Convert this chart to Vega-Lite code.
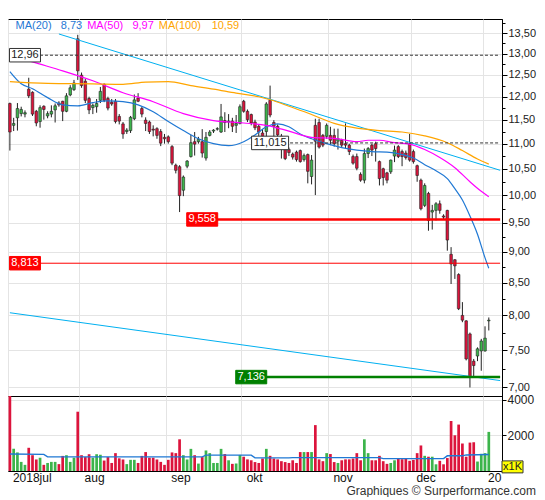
{
  "$schema": "https://vega.github.io/schema/vega-lite/v6.json",
  "padding": {"left": 6, "top": 16, "right": 4, "bottom": 0},
  "background": "white",
  "bounds": "flush",
  "config": {
    "view": {"stroke": "#000", "strokeWidth": 1},
    "axis": {
      "labelFont": "Liberation Sans",
      "labelColor": "#222",
      "gridColor": "#e4e4e4",
      "tickColor": "#000",
      "domainColor": "#000",
      "labelOverlap": false,
      "labelFlush": false
    },
    "text": {"font": "Liberation Sans"}
  },
  "title": {
    "text": "Graphiques © Surperformance.com",
    "orient": "bottom",
    "anchor": "end",
    "font": "Liberation Sans",
    "fontSize": 12,
    "fontWeight": "normal",
    "color": "#333",
    "offset": 2
  },
  "datasets": {
    "candles": [
      {"d": "2018-07-05", "o": 11.85, "h": 11.87, "l": 10.86, "c": 11.24, "v": 4300},
      {"d": "2018-07-06", "o": 11.38, "h": 11.54, "l": 11.26, "c": 11.42, "v": 1240},
      {"d": "2018-07-09", "o": 11.54, "h": 11.86, "l": 11.27, "c": 11.74, "v": 1040},
      {"d": "2018-07-10", "o": 11.63, "h": 11.78, "l": 11.57, "c": 11.72, "v": 510},
      {"d": "2018-07-11", "o": 11.62, "h": 11.70, "l": 11.55, "c": 11.65, "v": 345},
      {"d": "2018-07-12", "o": 12.17, "h": 12.43, "l": 11.97, "c": 12.02, "v": 1300},
      {"d": "2018-07-13", "o": 12.10, "h": 12.12, "l": 11.58, "c": 11.62, "v": 885},
      {"d": "2018-07-16", "o": 11.68, "h": 11.71, "l": 11.36, "c": 11.43, "v": 645},
      {"d": "2018-07-17", "o": 11.46, "h": 11.81, "l": 11.33, "c": 11.76, "v": 745},
      {"d": "2018-07-18", "o": 11.79, "h": 11.81, "l": 11.50, "c": 11.72, "v": 345},
      {"d": "2018-07-19", "o": 11.58, "h": 11.68, "l": 11.53, "c": 11.63, "v": 450},
      {"d": "2018-07-20", "o": 11.62, "h": 11.81, "l": 11.55, "c": 11.68, "v": 510},
      {"d": "2018-07-23", "o": 11.71, "h": 11.85, "l": 11.44, "c": 11.80, "v": 510},
      {"d": "2018-07-24", "o": 11.86, "h": 11.90, "l": 11.78, "c": 11.82, "v": 385},
      {"d": "2018-07-25", "o": 11.90, "h": 11.91, "l": 11.47, "c": 11.68, "v": 845},
      {"d": "2018-07-26", "o": 11.68, "h": 12.08, "l": 11.66, "c": 12.02, "v": 885},
      {"d": "2018-07-27", "o": 12.04, "h": 12.26, "l": 12.01, "c": 12.20, "v": 510},
      {"d": "2018-07-30", "o": 12.16, "h": 12.38, "l": 12.13, "c": 12.31, "v": 745},
      {"d": "2018-07-31", "o": 13.36, "h": 13.46, "l": 12.38, "c": 12.59, "v": 3320},
      {"d": "2018-08-01", "o": 12.49, "h": 12.55, "l": 12.20, "c": 12.25, "v": 885},
      {"d": "2018-08-02", "o": 12.35, "h": 12.40, "l": 11.86, "c": 11.92, "v": 780},
      {"d": "2018-08-03", "o": 11.96, "h": 12.00, "l": 11.62, "c": 11.71, "v": 940},
      {"d": "2018-08-06", "o": 11.76, "h": 11.85, "l": 11.62, "c": 11.81, "v": 745},
      {"d": "2018-08-07", "o": 11.78, "h": 11.95, "l": 11.65, "c": 11.85, "v": 940},
      {"d": "2018-08-08", "o": 11.92, "h": 12.22, "l": 11.86, "c": 12.12, "v": 910},
      {"d": "2018-08-09", "o": 12.28, "h": 12.30, "l": 11.88, "c": 11.92, "v": 585},
      {"d": "2018-08-10", "o": 11.96, "h": 12.00, "l": 11.70, "c": 11.75, "v": 780},
      {"d": "2018-08-13", "o": 11.88, "h": 11.95, "l": 11.80, "c": 11.84, "v": 450},
      {"d": "2018-08-14", "o": 11.90, "h": 11.95, "l": 11.42, "c": 11.46, "v": 1000},
      {"d": "2018-08-15", "o": 11.57, "h": 11.62, "l": 11.40, "c": 11.47, "v": 710},
      {"d": "2018-08-16", "o": 11.41, "h": 11.45, "l": 11.10, "c": 11.20, "v": 645},
      {"d": "2018-08-17", "o": 11.25, "h": 11.32, "l": 11.20, "c": 11.28, "v": 385},
      {"d": "2018-08-20", "o": 11.27, "h": 11.58, "l": 11.22, "c": 11.55, "v": 625},
      {"d": "2018-08-21", "o": 11.52, "h": 12.05, "l": 11.49, "c": 11.93, "v": 625},
      {"d": "2018-08-22", "o": 11.97, "h": 12.08, "l": 11.88, "c": 11.90, "v": 450},
      {"d": "2018-08-23", "o": 11.74, "h": 11.78, "l": 11.55, "c": 11.62, "v": 845},
      {"d": "2018-08-24", "o": 11.49, "h": 11.55, "l": 11.26, "c": 11.42, "v": 1060},
      {"d": "2018-08-27", "o": 11.45, "h": 11.48, "l": 11.20, "c": 11.25, "v": 745},
      {"d": "2018-08-28", "o": 11.30, "h": 11.38, "l": 11.15, "c": 11.28, "v": 745},
      {"d": "2018-08-29", "o": 11.31, "h": 11.34, "l": 11.10, "c": 11.17, "v": 645},
      {"d": "2018-08-30", "o": 11.25, "h": 11.30, "l": 10.95, "c": 11.01, "v": 510},
      {"d": "2018-08-31", "o": 11.13, "h": 11.20, "l": 11.00, "c": 11.10, "v": 345},
      {"d": "2018-09-03", "o": 11.14, "h": 11.17, "l": 11.00, "c": 11.04, "v": 625},
      {"d": "2018-09-04", "o": 10.94, "h": 10.97, "l": 10.57, "c": 10.61, "v": 1040},
      {"d": "2018-09-05", "o": 10.57, "h": 10.60, "l": 10.41, "c": 10.47, "v": 1000},
      {"d": "2018-09-06", "o": 10.54, "h": 10.57, "l": 9.69, "c": 9.99, "v": 1775},
      {"d": "2018-09-07", "o": 10.09, "h": 10.37, "l": 9.98, "c": 10.34, "v": 885},
      {"d": "2018-09-10", "o": 10.55, "h": 10.67, "l": 10.51, "c": 10.65, "v": 645},
      {"d": "2018-09-11", "o": 10.74, "h": 11.18, "l": 10.72, "c": 11.02, "v": 1240},
      {"d": "2018-09-12", "o": 11.04, "h": 11.24, "l": 10.76, "c": 10.99, "v": 885},
      {"d": "2018-09-13", "o": 11.04, "h": 11.14, "l": 11.00, "c": 11.09, "v": 415},
      {"d": "2018-09-14", "o": 11.04, "h": 11.30, "l": 10.72, "c": 10.81, "v": 780},
      {"d": "2018-09-17", "o": 10.71, "h": 11.24, "l": 10.66, "c": 11.13, "v": 1150},
      {"d": "2018-09-18", "o": 11.17, "h": 11.28, "l": 11.15, "c": 11.24, "v": 1000},
      {"d": "2018-09-19", "o": 11.26, "h": 11.30, "l": 11.22, "c": 11.28, "v": 450},
      {"d": "2018-09-20", "o": 11.30, "h": 11.34, "l": 11.27, "c": 11.31, "v": 450},
      {"d": "2018-09-21", "o": 11.24, "h": 11.84, "l": 11.22, "c": 11.56, "v": 1240},
      {"d": "2018-09-24", "o": 11.48, "h": 11.66, "l": 11.24, "c": 11.44, "v": 950},
      {"d": "2018-09-25", "o": 11.45, "h": 11.62, "l": 11.32, "c": 11.47, "v": 600},
      {"d": "2018-09-26", "o": 11.47, "h": 11.54, "l": 11.24, "c": 11.36, "v": 400},
      {"d": "2018-09-27", "o": 11.38, "h": 11.60, "l": 11.22, "c": 11.42, "v": 420},
      {"d": "2018-09-28", "o": 11.42, "h": 11.83, "l": 11.40, "c": 11.78, "v": 900},
      {"d": "2018-10-01", "o": 11.90, "h": 11.93, "l": 11.65, "c": 11.68, "v": 800},
      {"d": "2018-10-02", "o": 11.68, "h": 11.72, "l": 11.45, "c": 11.50, "v": 650},
      {"d": "2018-10-03", "o": 11.61, "h": 11.63, "l": 11.38, "c": 11.43, "v": 600},
      {"d": "2018-10-04", "o": 11.45, "h": 11.50, "l": 11.28, "c": 11.33, "v": 500},
      {"d": "2018-10-05", "o": 11.36, "h": 11.40, "l": 11.15, "c": 11.24, "v": 450},
      {"d": "2018-10-08", "o": 11.22, "h": 11.30, "l": 11.02, "c": 11.15, "v": 700},
      {"d": "2018-10-09", "o": 11.25, "h": 11.88, "l": 11.10, "c": 11.84, "v": 1240},
      {"d": "2018-10-10", "o": 11.92, "h": 12.25, "l": 11.55, "c": 11.60, "v": 850},
      {"d": "2018-10-11", "o": 11.44, "h": 11.49, "l": 11.13, "c": 11.36, "v": 700},
      {"d": "2018-10-12", "o": 11.36, "h": 11.40, "l": 11.12, "c": 11.18, "v": 650},
      {"d": "2018-10-15", "o": 11.15, "h": 11.20, "l": 10.70, "c": 11.12, "v": 550},
      {"d": "2018-10-16", "o": 10.89, "h": 10.95, "l": 10.67, "c": 10.70, "v": 500},
      {"d": "2018-10-17", "o": 10.88, "h": 10.92, "l": 10.75, "c": 10.82, "v": 450},
      {"d": "2018-10-18", "o": 10.79, "h": 10.82, "l": 10.68, "c": 10.73, "v": 600},
      {"d": "2018-10-19", "o": 10.83, "h": 10.86, "l": 10.64, "c": 10.68, "v": 450},
      {"d": "2018-10-22", "o": 10.86, "h": 10.88, "l": 10.62, "c": 10.64, "v": 1060},
      {"d": "2018-10-23", "o": 10.68, "h": 10.80, "l": 10.64, "c": 10.76, "v": 1060},
      {"d": "2018-10-24", "o": 10.78, "h": 10.80, "l": 10.22, "c": 10.45, "v": 1060},
      {"d": "2018-10-25", "o": 10.35, "h": 10.77, "l": 10.20, "c": 10.67, "v": 1060},
      {"d": "2018-10-26", "o": 11.38, "h": 11.52, "l": 10.00, "c": 11.05, "v": 2570},
      {"d": "2018-10-29", "o": 11.44, "h": 11.52, "l": 10.90, "c": 10.93, "v": 650},
      {"d": "2018-10-30", "o": 11.17, "h": 11.20, "l": 10.93, "c": 10.97, "v": 550},
      {"d": "2018-10-31", "o": 11.15, "h": 11.42, "l": 11.10, "c": 11.38, "v": 1000},
      {"d": "2018-11-01", "o": 11.17, "h": 11.35, "l": 10.97, "c": 11.07, "v": 950},
      {"d": "2018-11-02", "o": 11.17, "h": 11.31, "l": 10.94, "c": 11.00, "v": 500},
      {"d": "2018-11-05", "o": 11.05, "h": 11.31, "l": 10.88, "c": 11.10, "v": 450},
      {"d": "2018-11-06", "o": 11.07, "h": 11.10, "l": 10.93, "c": 10.97, "v": 600},
      {"d": "2018-11-07", "o": 11.00, "h": 11.42, "l": 10.90, "c": 10.97, "v": 650},
      {"d": "2018-11-08", "o": 10.97, "h": 11.00, "l": 10.77, "c": 10.84, "v": 650},
      {"d": "2018-11-09", "o": 10.74, "h": 10.78, "l": 10.58, "c": 10.61, "v": 700},
      {"d": "2018-11-12", "o": 10.74, "h": 10.80, "l": 10.47, "c": 10.51, "v": 1000},
      {"d": "2018-11-13", "o": 10.39, "h": 10.43, "l": 10.25, "c": 10.28, "v": 600},
      {"d": "2018-11-14", "o": 10.28, "h": 10.90, "l": 10.22, "c": 10.80, "v": 1775},
      {"d": "2018-11-15", "o": 10.80, "h": 10.93, "l": 10.71, "c": 10.90, "v": 1000},
      {"d": "2018-11-16", "o": 10.97, "h": 11.00, "l": 10.75, "c": 10.87, "v": 600},
      {"d": "2018-11-19", "o": 11.00, "h": 11.04, "l": 10.64, "c": 10.90, "v": 600},
      {"d": "2018-11-20", "o": 10.64, "h": 10.66, "l": 10.18, "c": 10.31, "v": 850},
      {"d": "2018-11-21", "o": 10.50, "h": 10.52, "l": 10.18, "c": 10.33, "v": 550},
      {"d": "2018-11-22", "o": 10.42, "h": 10.44, "l": 10.22, "c": 10.28, "v": 400},
      {"d": "2018-11-23", "o": 10.44, "h": 10.68, "l": 10.40, "c": 10.67, "v": 450},
      {"d": "2018-11-26", "o": 10.75, "h": 10.96, "l": 10.63, "c": 10.87, "v": 600},
      {"d": "2018-11-27", "o": 10.94, "h": 10.97, "l": 10.71, "c": 10.74, "v": 700},
      {"d": "2018-11-28", "o": 10.84, "h": 10.88, "l": 10.55, "c": 10.74, "v": 660},
      {"d": "2018-11-29", "o": 10.81, "h": 10.86, "l": 10.68, "c": 10.72, "v": 700},
      {"d": "2018-11-30", "o": 11.00, "h": 11.20, "l": 10.64, "c": 10.67, "v": 570},
      {"d": "2018-12-03", "o": 10.84, "h": 10.88, "l": 10.60, "c": 10.64, "v": 625},
      {"d": "2018-12-04", "o": 10.56, "h": 10.58, "l": 10.25, "c": 10.37, "v": 1000},
      {"d": "2018-12-05", "o": 10.28, "h": 10.31, "l": 9.72, "c": 9.75, "v": 1430},
      {"d": "2018-12-06", "o": 9.81, "h": 10.22, "l": 9.78, "c": 10.18, "v": 850},
      {"d": "2018-12-07", "o": 10.03, "h": 10.06, "l": 9.36, "c": 9.54, "v": 800},
      {"d": "2018-12-10", "o": 9.69, "h": 9.82, "l": 9.38, "c": 9.72, "v": 800},
      {"d": "2018-12-11", "o": 9.72, "h": 9.87, "l": 9.54, "c": 9.84, "v": 375},
      {"d": "2018-12-12", "o": 9.84, "h": 9.90, "l": 9.66, "c": 9.72, "v": 570},
      {"d": "2018-12-13", "o": 9.62, "h": 9.65, "l": 9.55, "c": 9.60, "v": 375},
      {"d": "2018-12-14", "o": 9.72, "h": 9.73, "l": 9.02, "c": 9.20, "v": 725},
      {"d": "2018-12-17", "o": 8.96, "h": 9.08, "l": 8.48, "c": 8.80, "v": 2800},
      {"d": "2018-12-18", "o": 8.87, "h": 8.88, "l": 8.56, "c": 8.77, "v": 2000},
      {"d": "2018-12-19", "o": 8.63, "h": 8.65, "l": 8.08, "c": 8.10, "v": 2600},
      {"d": "2018-12-20", "o": 8.00, "h": 8.20, "l": 7.90, "c": 7.93, "v": 1540},
      {"d": "2018-12-21", "o": 7.92, "h": 7.93, "l": 7.36, "c": 7.38, "v": 800},
      {"d": "2018-12-24", "o": 7.73, "h": 7.75, "l": 7.00, "c": 7.13, "v": 1590},
      {"d": "2018-12-27", "o": 7.35, "h": 7.38, "l": 7.13, "c": 7.29, "v": 1610},
      {"d": "2018-12-28", "o": 7.42, "h": 7.54, "l": 7.35, "c": 7.52, "v": 530},
      {"d": "2018-12-31", "o": 7.49, "h": 7.66, "l": 7.22, "c": 7.63, "v": 960},
      {"d": "2019-01-02", "o": 7.49, "h": 7.84, "l": 7.48, "c": 7.67, "v": 1000},
      {"d": "2019-01-03", "o": 7.92, "h": 7.97, "l": 7.78, "c": 7.93, "v": 2190}
    ],
    "ma": [
      {"d": "2018-07-05", "ma": "MA(20)", "v": 12.57},
      {"d": "2018-07-10", "ma": "MA(20)", "v": 12.29},
      {"d": "2018-07-13", "ma": "MA(20)", "v": 12.18},
      {"d": "2018-07-19", "ma": "MA(20)", "v": 11.98},
      {"d": "2018-07-25", "ma": "MA(20)", "v": 11.82},
      {"d": "2018-07-31", "ma": "MA(20)", "v": 11.80},
      {"d": "2018-08-06", "ma": "MA(20)", "v": 11.87},
      {"d": "2018-08-10", "ma": "MA(20)", "v": 11.91},
      {"d": "2018-08-16", "ma": "MA(20)", "v": 11.89},
      {"d": "2018-08-22", "ma": "MA(20)", "v": 11.82},
      {"d": "2018-08-28", "ma": "MA(20)", "v": 11.67},
      {"d": "2018-09-03", "ma": "MA(20)", "v": 11.46},
      {"d": "2018-09-07", "ma": "MA(20)", "v": 11.27},
      {"d": "2018-09-13", "ma": "MA(20)", "v": 11.10},
      {"d": "2018-09-19", "ma": "MA(20)", "v": 11.00},
      {"d": "2018-09-25", "ma": "MA(20)", "v": 10.96},
      {"d": "2018-10-01", "ma": "MA(20)", "v": 11.04},
      {"d": "2018-10-04", "ma": "MA(20)", "v": 11.18},
      {"d": "2018-10-09", "ma": "MA(20)", "v": 11.35},
      {"d": "2018-10-12", "ma": "MA(20)", "v": 11.41},
      {"d": "2018-10-17", "ma": "MA(20)", "v": 11.35},
      {"d": "2018-10-22", "ma": "MA(20)", "v": 11.20},
      {"d": "2018-10-25", "ma": "MA(20)", "v": 11.10},
      {"d": "2018-10-31", "ma": "MA(20)", "v": 11.00},
      {"d": "2018-11-06", "ma": "MA(20)", "v": 10.92},
      {"d": "2018-11-12", "ma": "MA(20)", "v": 10.87},
      {"d": "2018-11-16", "ma": "MA(20)", "v": 10.84},
      {"d": "2018-11-22", "ma": "MA(20)", "v": 10.83},
      {"d": "2018-11-28", "ma": "MA(20)", "v": 10.78},
      {"d": "2018-12-03", "ma": "MA(20)", "v": 10.71},
      {"d": "2018-12-06", "ma": "MA(20)", "v": 10.58},
      {"d": "2018-12-11", "ma": "MA(20)", "v": 10.46},
      {"d": "2018-12-14", "ma": "MA(20)", "v": 10.31},
      {"d": "2018-12-18", "ma": "MA(20)", "v": 10.12},
      {"d": "2018-12-20", "ma": "MA(20)", "v": 9.91},
      {"d": "2018-12-24", "ma": "MA(20)", "v": 9.62},
      {"d": "2018-12-28", "ma": "MA(20)", "v": 9.30},
      {"d": "2019-01-02", "ma": "MA(20)", "v": 8.90},
      {"d": "2019-01-03", "ma": "MA(20)", "v": 8.73},
      {"d": "2018-07-05", "ma": "MA(50)", "v": 12.97},
      {"d": "2018-07-13", "ma": "MA(50)", "v": 12.80},
      {"d": "2018-07-25", "ma": "MA(50)", "v": 12.59},
      {"d": "2018-08-06", "ma": "MA(50)", "v": 12.36},
      {"d": "2018-08-16", "ma": "MA(50)", "v": 12.09},
      {"d": "2018-08-28", "ma": "MA(50)", "v": 11.89},
      {"d": "2018-09-07", "ma": "MA(50)", "v": 11.63},
      {"d": "2018-09-19", "ma": "MA(50)", "v": 11.48},
      {"d": "2018-10-01", "ma": "MA(50)", "v": 11.43},
      {"d": "2018-10-09", "ma": "MA(50)", "v": 11.38},
      {"d": "2018-10-17", "ma": "MA(50)", "v": 11.26},
      {"d": "2018-10-25", "ma": "MA(50)", "v": 11.13},
      {"d": "2018-11-02", "ma": "MA(50)", "v": 11.11},
      {"d": "2018-11-12", "ma": "MA(50)", "v": 11.04},
      {"d": "2018-11-15", "ma": "MA(50)", "v": 11.07},
      {"d": "2018-11-20", "ma": "MA(50)", "v": 11.07},
      {"d": "2018-11-26", "ma": "MA(50)", "v": 11.02},
      {"d": "2018-11-30", "ma": "MA(50)", "v": 10.99},
      {"d": "2018-12-06", "ma": "MA(50)", "v": 10.88},
      {"d": "2018-12-12", "ma": "MA(50)", "v": 10.72},
      {"d": "2018-12-18", "ma": "MA(50)", "v": 10.52},
      {"d": "2018-12-24", "ma": "MA(50)", "v": 10.25},
      {"d": "2018-12-31", "ma": "MA(50)", "v": 10.07},
      {"d": "2019-01-03", "ma": "MA(50)", "v": 9.97},
      {"d": "2018-07-05", "ma": "MA(100)", "v": 12.34},
      {"d": "2018-07-19", "ma": "MA(100)", "v": 12.30},
      {"d": "2018-08-06", "ma": "MA(100)", "v": 12.29},
      {"d": "2018-08-16", "ma": "MA(100)", "v": 12.28},
      {"d": "2018-08-24", "ma": "MA(100)", "v": 12.33},
      {"d": "2018-09-03", "ma": "MA(100)", "v": 12.34},
      {"d": "2018-09-11", "ma": "MA(100)", "v": 12.25},
      {"d": "2018-09-19", "ma": "MA(100)", "v": 12.17},
      {"d": "2018-09-27", "ma": "MA(100)", "v": 12.08},
      {"d": "2018-10-05", "ma": "MA(100)", "v": 12.00},
      {"d": "2018-10-11", "ma": "MA(100)", "v": 11.91},
      {"d": "2018-10-17", "ma": "MA(100)", "v": 11.79},
      {"d": "2018-10-25", "ma": "MA(100)", "v": 11.61},
      {"d": "2018-11-02", "ma": "MA(100)", "v": 11.42},
      {"d": "2018-11-12", "ma": "MA(100)", "v": 11.32},
      {"d": "2018-11-20", "ma": "MA(100)", "v": 11.27},
      {"d": "2018-11-28", "ma": "MA(100)", "v": 11.24},
      {"d": "2018-12-06", "ma": "MA(100)", "v": 11.16},
      {"d": "2018-12-14", "ma": "MA(100)", "v": 11.02},
      {"d": "2018-12-20", "ma": "MA(100)", "v": 10.86},
      {"d": "2018-12-28", "ma": "MA(100)", "v": 10.69},
      {"d": "2019-01-03", "ma": "MA(100)", "v": 10.59}
    ],
    "trend": [
      {"d": "2018-07-24", "t": "up", "v": 13.48},
      {"d": "2019-01-08", "t": "up", "v": 10.47},
      {"d": "2018-07-05", "t": "low", "v": 8.04},
      {"d": "2019-01-08", "t": "low", "v": 7.09}
    ],
    "levels": [
      {"d": "2018-07-11", "v": 12.96, "lab": "12,96", "kind": "w"},
      {"d": "2018-10-10", "v": 11.015, "lab": "11,015", "kind": "w"},
      {"d": "2018-09-14", "v": 9.558, "lab": "9,558", "kind": "r"},
      {"d": "2018-07-11", "v": 8.813, "lab": "8,813", "kind": "r"},
      {"d": "2018-10-03", "v": 7.136, "lab": "7,136", "kind": "g"}
    ],
    "malabels": [
      {"d": "2018-07-09", "t": "MA(20)", "ma": "MA(20)"},
      {"d": "2018-07-25", "t": "8,73", "ma": "MA(20)"},
      {"d": "2018-08-03", "t": "MA(50)", "ma": "MA(50)"},
      {"d": "2018-08-21", "t": "9,97", "ma": "MA(50)"},
      {"d": "2018-08-30", "t": "MA(100)", "ma": "MA(100)"},
      {"d": "2018-09-19", "t": "10,59", "ma": "MA(100)"}
    ],
    "vma": [
      {"d": "2018-07-05", "v": 950},
      {"d": "2018-07-18", "v": 930},
      {"d": "2018-07-19", "v": 790},
      {"d": "2018-09-14", "v": 790},
      {"d": "2018-09-17", "v": 890},
      {"d": "2018-10-03", "v": 890},
      {"d": "2018-10-04", "v": 735},
      {"d": "2018-10-17", "v": 735},
      {"d": "2018-10-18", "v": 750},
      {"d": "2018-11-20", "v": 750},
      {"d": "2018-11-21", "v": 695},
      {"d": "2018-12-13", "v": 695},
      {"d": "2018-12-14", "v": 850},
      {"d": "2018-12-20", "v": 850},
      {"d": "2018-12-21", "v": 900},
      {"d": "2019-01-03", "v": 920}
    ]
  },
  "spacing": 0,
  "resolve": {"scale": {"x": "shared"}},
  "vconcat": [
    {
      "width": 494,
      "height": 377,
      "layer": [
        {
          "data": {"name": "candles"},
          "mark": {"type": "rule", "color": "#222", "strokeWidth": 1},
          "encoding": {
            "x": {
              "field": "d",
              "type": "ordinal",
              "title": null,
              "scale": {
                "type": "band",
                "paddingInner": 0,
                "paddingOuter": 0,
                "domain": {"unionWith": ["2019-01-04", "2019-01-07", "2019-01-08"]}
              },
              "axis": {
                "values": ["2018-07-05", "2018-08-01", "2018-09-03", "2018-10-01", "2018-11-01", "2018-12-03", "2019-01-02"],
                "bandPosition": 0,
                "labels": false,
                "ticks": false,
                "domain": false,
                "grid": true,
                "minExtent": 0,
                "maxExtent": 0
              }
            },
            "y": {
              "field": "l",
              "type": "quantitative",
              "title": null,
              "scale": {"type": "log", "domain": [6.89, 13.86], "nice": false},
              "axis": {
                "orient": "right",
                "values": [7, 7.25, 7.5, 7.75, 8, 8.25, 8.5, 8.75, 9, 9.25, 9.5, 9.75, 10, 10.25, 10.5, 10.75, 11, 11.25, 11.5, 11.75, 12, 12.25, 12.5, 12.75, 13, 13.25, 13.5, 13.75],
                "labelExpr": "datum.value * 2 % 1 == 0 ? replace(format(datum.value, '.2f'), '.', ',') : ''",
                "labelFontSize": 11,
                "labelPadding": 1,
                "labelOverlap": false,
                "grid": true,
                "gridOpacity": {"condition": {"test": "datum.value * 2 % 1 != 0", "value": 0}, "value": 1},
                "tickSize": {"condition": {"test": "datum.value * 2 % 1 != 0", "value": 3}, "value": 5}
              }
            },
            "y2": {"field": "h"}
          }
        },
        {
          "data": {"name": "candles"},
          "mark": {"type": "bar", "width": 2.6, "stroke": "#222", "strokeWidth": 0.6},
          "encoding": {
            "x": {"field": "d", "type": "ordinal", "title": null},
            "y": {"field": "o", "type": "quantitative", "title": null},
            "y2": {"field": "c"},
            "fill": {"condition": {"test": "datum.c >= datum.o", "value": "#3cb44b"}, "value": "#dc143c"}
          }
        },
        {
          "data": {"name": "trend"},
          "mark": {"type": "line", "color": "#00b0f0", "strokeWidth": 1},
          "encoding": {
            "x": {"field": "d", "type": "ordinal", "title": null},
            "y": {"field": "v", "type": "quantitative", "title": null},
            "detail": {"field": "t"}
          }
        },
        {
          "data": {"name": "ma"},
          "mark": {"type": "line", "strokeWidth": 1.2, "interpolate": "monotone"},
          "encoding": {
            "x": {"field": "d", "type": "ordinal", "title": null},
            "y": {"field": "v", "type": "quantitative", "title": null},
            "color": {
              "field": "ma",
              "type": "nominal",
              "scale": {"domain": ["MA(20)", "MA(50)", "MA(100)"], "range": ["#1f78d4", "#ff00ff", "#ffa500"]},
              "legend": null
            }
          }
        },
        {
          "data": {"name": "levels"},
          "transform": [{"filter": "datum.kind == 'w'"}],
          "mark": {"type": "rule", "color": "#333", "strokeWidth": 1, "strokeDash": [3, 2]},
          "encoding": {
            "x": {"field": "d", "type": "ordinal", "title": null},
            "x2": {"datum": "2019-01-08"},
            "y": {"field": "v", "type": "quantitative", "title": null}
          }
        },
        {
          "data": {"name": "levels"},
          "transform": [{"filter": "datum.lab == '8,813'"}],
          "mark": {"type": "rule", "color": "#ff0000", "strokeWidth": 1},
          "encoding": {
            "x": {"field": "d", "type": "ordinal", "title": null},
            "x2": {"datum": "2019-01-08"},
            "y": {"field": "v", "type": "quantitative", "title": null}
          }
        },
        {
          "data": {"name": "levels"},
          "transform": [{"filter": "datum.kind != 'w' && datum.lab != '8,813'"}],
          "mark": {"type": "rule", "strokeWidth": 2.5},
          "encoding": {
            "x": {"field": "d", "type": "ordinal", "title": null},
            "x2": {"datum": "2019-01-08"},
            "y": {"field": "v", "type": "quantitative", "title": null},
            "stroke": {
              "field": "kind",
              "type": "nominal",
              "scale": {"domain": ["r", "g", "w"], "range": ["#ff0000", "#008000", "#333333"]},
              "legend": null
            }
          }
        },
        {
          "data": {"name": "levels"},
          "transform": [{"filter": "datum.lab != '11,015'"}],
          "mark": {"type": "point", "shape": "M-1,-0.435H1V0.435H-1Z", "size": 961, "filled": true, "opacity": 1, "strokeWidth": 1},
          "encoding": {
            "x": {"field": "d", "type": "ordinal", "title": null},
            "y": {"field": "v", "type": "quantitative", "title": null},
            "fill": {
              "field": "kind",
              "type": "nominal",
              "scale": {"domain": ["r", "g", "w"], "range": ["#ff0000", "#008000", "#ffffff"]},
              "legend": null
            },
            "stroke": {"field": "kind", "type": "nominal", "legend": null}
          }
        },
        {
          "data": {"name": "levels"},
          "transform": [{"filter": "datum.lab == '11,015'"}],
          "mark": {"type": "point", "shape": "M-1,-0.365H1V0.365H-1Z", "size": 1369, "filled": true, "opacity": 1, "strokeWidth": 1},
          "encoding": {
            "x": {"field": "d", "type": "ordinal", "title": null},
            "y": {"field": "v", "type": "quantitative", "title": null},
            "fill": {"field": "kind", "type": "nominal", "legend": null},
            "stroke": {"field": "kind", "type": "nominal", "legend": null}
          }
        },
        {
          "data": {"name": "levels"},
          "mark": {"type": "text", "align": "center", "baseline": "middle", "fontSize": 11},
          "encoding": {
            "x": {"field": "d", "type": "ordinal", "title": null},
            "y": {"field": "v", "type": "quantitative", "title": null},
            "text": {"field": "lab"},
            "color": {"condition": {"test": "datum.kind == 'w'", "value": "#222"}, "value": "#ffffff"}
          }
        },
        {
          "data": {"name": "malabels"},
          "mark": {"type": "text", "align": "left", "baseline": "middle", "fontSize": 11},
          "encoding": {
            "x": {"field": "d", "type": "ordinal", "title": null, "bandPosition": 0},
            "y": {"datum": 13.67},
            "text": {"field": "t"},
            "color": {"field": "ma", "type": "nominal", "legend": null}
          }
        }
      ]
    },
    {
      "width": 494,
      "height": 75,
      "layer": [
        {
          "data": {"name": "candles"},
          "mark": {"type": "bar", "width": 2.7, "clip": true},
          "encoding": {
            "x": {
              "field": "d",
              "type": "ordinal",
              "title": null,
              "axis": {
                "values": ["2018-07-05", "2018-08-01", "2018-09-03", "2018-10-01", "2018-11-01", "2018-12-03", "2019-01-02"],
                "bandPosition": 0,
                "labelExpr": "datum.value == '2018-07-05' ? '2018jul' : datum.value == '2018-08-01' ? 'aug' : datum.value == '2018-09-03' ? 'sep' : datum.value == '2018-10-01' ? 'okt' : datum.value == '2018-11-01' ? 'nov' : datum.value == '2018-12-03' ? 'dec' : '20'",
                "labelAngle": 0,
                "labelAlign": "left",
                "labelBaseline": "top",
                "labelOffset": 3,
                "labelPadding": 1,
                "labelFontSize": 12,
                "labelColor": "#111",
                "labelOverlap": false,
                "ticks": false,
                "grid": true,
                "domain": true
              }
            },
            "y": {
              "field": "v",
              "type": "quantitative",
              "title": null,
              "scale": {"domain": [0, 4200], "nice": false},
              "axis": {
                "orient": "right",
                "values": [2000, 4000],
                "format": "d",
                "labelFontSize": 12,
                "labelPadding": 1,
                "labelOverlap": false,
                "grid": true,
                "tickSize": 4
              }
            },
            "color": {"condition": {"test": "datum.c >= datum.o", "value": "#3cb44b"}, "value": "#dc143c"}
          }
        },
        {
          "data": {"name": "vma"},
          "mark": {"type": "line", "color": "#1f78d4", "strokeWidth": 1.4},
          "encoding": {
            "x": {"field": "d", "type": "ordinal", "title": null},
            "y": {"field": "v", "type": "quantitative", "title": null}
          }
        },
        {
          "data": {"values": [{"d": "2019-01-08", "t": "x1K"}]},
          "mark": {"type": "point", "shape": "M0,-0.571H2V0.571H0Z", "size": 441, "filled": true, "fill": "#ffff00", "stroke": "#333", "strokeWidth": 1, "opacity": 1},
          "encoding": {
            "x": {"field": "d", "type": "ordinal", "title": null, "bandPosition": 1},
            "y": {"datum": 230}
          }
        },
        {
          "data": {"values": [{"d": "2019-01-08", "t": "x1K"}]},
          "mark": {"type": "text", "align": "center", "baseline": "middle", "fontSize": 11, "dx": 10.5, "color": "#222"},
          "encoding": {
            "x": {"field": "d", "type": "ordinal", "title": null, "bandPosition": 1},
            "y": {"datum": 230},
            "text": {"field": "t"}
          }
        }
      ]
    }
  ]
}
